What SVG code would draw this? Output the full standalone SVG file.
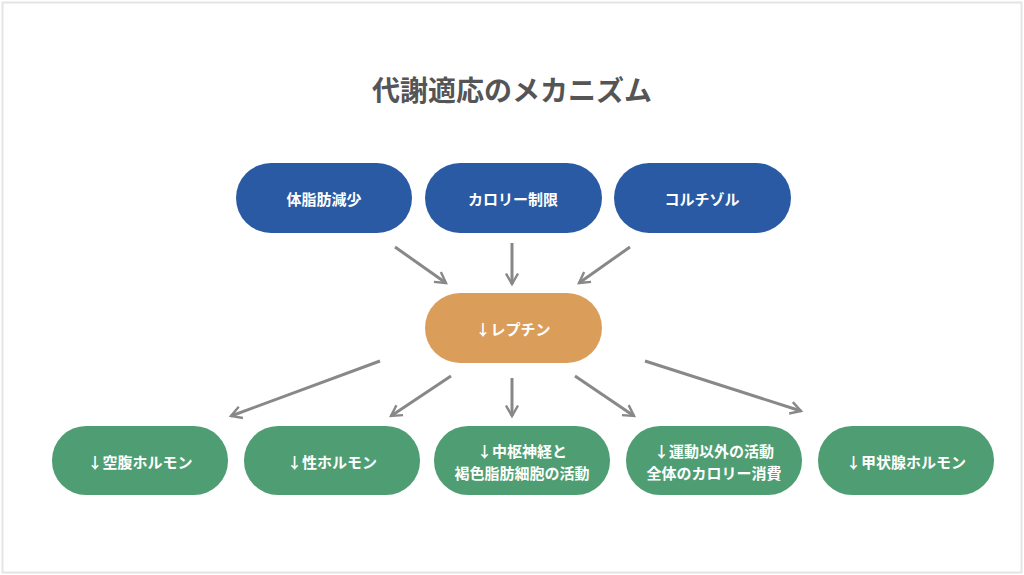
<svg xmlns="http://www.w3.org/2000/svg" width="1024" height="575" viewBox="0 0 1024 575">
<style>
text{font-family:"Noto Sans CJK JP","Noto Sans",sans-serif;font-weight:bold;fill:#fff;font-size:15px;text-anchor:middle;dominant-baseline:central}
.t{fill:#555;font-size:28px}
.b{fill:#2a5aa3}.o{fill:#db9d5a}.g{fill:#4f9e73}
.c line{stroke:#888;stroke-width:3;marker-end:url(#a)}
</style>
<defs><marker id="a" viewBox="0 0 10 10" refX="8" refY="5" markerWidth="5" markerHeight="5" orient="auto" markerUnits="strokeWidth"><path d="M1,1L8,5L1,9" fill="none" stroke="#888" stroke-width="1.6"/></marker></defs>
<rect x="2.5" y="2.5" width="1019" height="570" fill="#fff" stroke="#e4e4e4" stroke-width="2"/>
<text class="t" x="512" y="89">代謝適応のメカニズム</text>
<g class="c">
<line x1="395" y1="247" x2="446" y2="283"/>
<line x1="512" y1="243" x2="512" y2="284"/>
<line x1="630" y1="247" x2="579" y2="283"/>
<line x1="380" y1="361" x2="231" y2="416"/>
<line x1="451" y1="376" x2="391" y2="416"/>
<line x1="512" y1="378" x2="512" y2="416"/>
<line x1="575" y1="376" x2="634" y2="416"/>
<line x1="645" y1="361" x2="801" y2="411"/>
</g>
<g id="n1"><rect class="b" x="236" y="163" width="176" height="70" rx="35"/><text x="324" y="198">体脂肪減少</text></g>
<g id="n2"><rect class="b" x="425" y="163" width="177" height="70" rx="35"/><text x="513" y="198">カロリー制限</text></g>
<g id="n3"><rect class="b" x="614" y="163" width="177" height="70" rx="35"/><text x="702" y="198">コルチゾル</text></g>
<g id="n4"><rect class="o" x="425" y="293" width="177" height="70" rx="35"/><text x="513" y="328">↓レプチン</text></g>
<g id="n5"><rect class="g" x="52" y="426" width="176" height="69" rx="34"/><text x="140" y="461">↓空腹ホルモン</text></g>
<g id="n6"><rect class="g" x="244" y="426" width="176" height="69" rx="34"/><text x="332" y="461">↓性ホルモン</text></g>
<g id="n7"><rect class="g" x="434" y="426" width="176" height="69" rx="34"/><text x="522" y="450">↓中枢神経と</text><text x="522" y="472">褐色脂肪細胞の活動</text></g>
<g id="n8"><rect class="g" x="626" y="426" width="176" height="69" rx="34"/><text x="714" y="450">↓運動以外の活動</text><text x="714" y="472">全体のカロリー消費</text></g>
<g id="n9"><rect class="g" x="818" y="426" width="176" height="69" rx="34"/><text x="906" y="461">↓甲状腺ホルモン</text></g>
</svg>
